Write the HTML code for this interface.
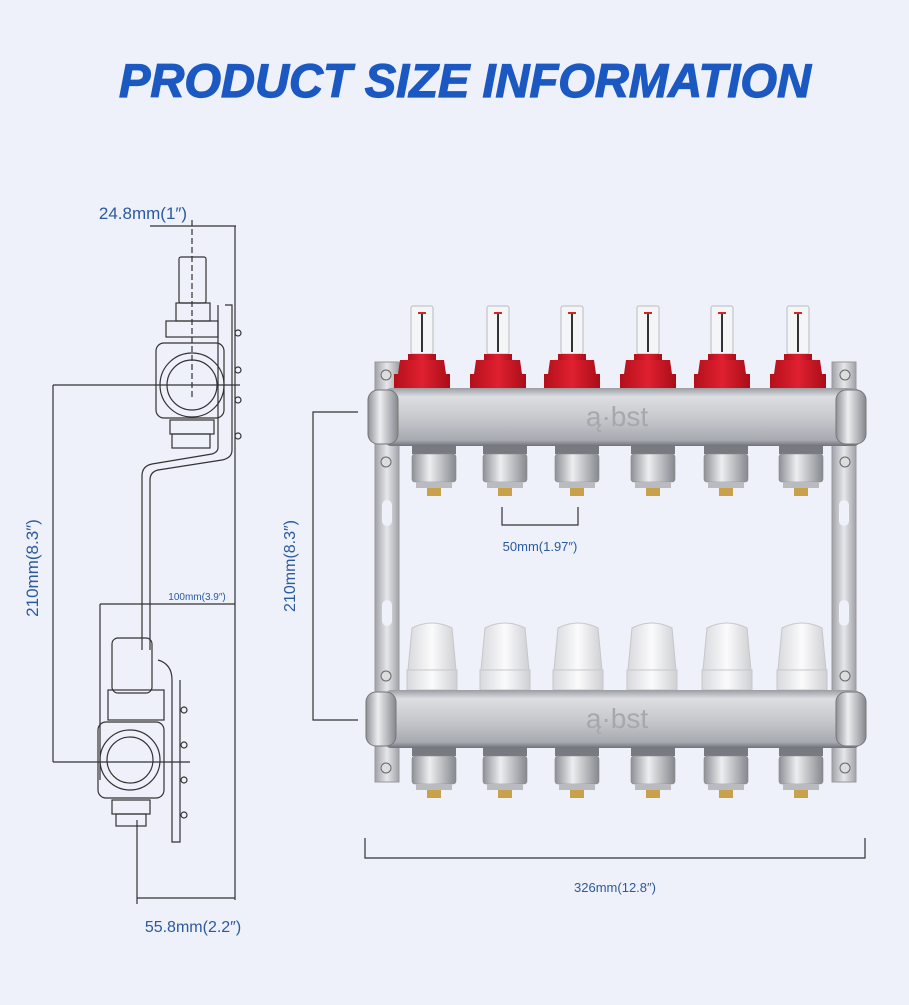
<!DOCTYPE html>
<html><head><meta charset="utf-8"><style>
body{margin:0;width:909px;height:1000px;background:#eef0fa;overflow:hidden}
</style></head><body>
<svg width="909" height="1000" xmlns="http://www.w3.org/2000/svg" font-family="Liberation Sans, sans-serif">
<defs>
<linearGradient id="bar" x1="0" y1="0" x2="0" y2="1"><stop offset="0" stop-color="#9a9da3"/><stop offset="0.15" stop-color="#dcdee2"/><stop offset="0.5" stop-color="#c8cace"/><stop offset="0.9" stop-color="#a7aab0"/><stop offset="1" stop-color="#6f7278"/></linearGradient>
<linearGradient id="rail" x1="0" y1="0" x2="1" y2="0"><stop offset="0" stop-color="#9fa2a8"/><stop offset="0.5" stop-color="#e6e7ea"/><stop offset="1" stop-color="#9fa2a8"/></linearGradient>
<linearGradient id="nut" x1="0" y1="0" x2="1" y2="0"><stop offset="0" stop-color="#8d9096"/><stop offset="0.4" stop-color="#eceef0"/><stop offset="1" stop-color="#85888e"/></linearGradient>
<linearGradient id="red" x1="0" y1="0" x2="1" y2="0"><stop offset="0" stop-color="#b3101a"/><stop offset="0.5" stop-color="#e02030"/><stop offset="1" stop-color="#a80d18"/></linearGradient>
<linearGradient id="wh" x1="0" y1="0" x2="1" y2="0"><stop offset="0" stop-color="#d8d9dc"/><stop offset="0.5" stop-color="#fbfbfc"/><stop offset="1" stop-color="#cfd0d3"/></linearGradient>
<g id="fit">
<rect x="-22" y="0" width="44" height="8" fill="#777a80"/>
<rect x="-22" y="8" width="44" height="28" rx="3" fill="url(#nut)" stroke="#888" stroke-width="0.6"/>
<rect x="-18" y="36" width="36" height="6" fill="#b9bbbf"/>
<rect x="-7" y="42" width="14" height="8" fill="#c9a14a"/>
</g>
<g id="meter">
<rect x="-11" y="0" width="22" height="48" rx="2" fill="#f4f5f7" stroke="#b9bcc2"/>
<line x1="0" y1="6" x2="0" y2="46" stroke="#333" stroke-width="2"/>
<rect x="-4" y="6" width="8" height="2" fill="#d22"/>
<rect x="-14" y="48" width="28" height="6" fill="url(#red)"/>
<path d="M-22 54 H22 L24 68 H28 V82 H-28 V68 H-24 Z" fill="url(#red)"/>
</g>
<g id="cap">
<path d="M-20 0 Q0 -10 20 0 L24 42 H-24 Z" fill="url(#wh)" stroke="#c6c7ca"/>
<rect x="-25" y="42" width="50" height="20" fill="url(#wh)" stroke="#c6c7ca"/>
</g>
</defs>

<text x="465" y="97" text-anchor="middle" font-size="47" font-weight="bold" font-style="italic" fill="#1b58c2" stroke="#1b58c2" stroke-width="1.2" textLength="692" lengthAdjust="spacingAndGlyphs">PRODUCT SIZE INFORMATION</text>

<g stroke="#333" fill="none" stroke-width="1.2">
<text x="143" y="219" text-anchor="middle" font-size="17" fill="#2a5aa0" stroke="none">24.8mm(1″)</text>
<line x1="150" y1="226" x2="236" y2="226"/>
<line x1="192" y1="220" x2="192" y2="400" stroke-dasharray="6 3"/>
<line x1="235" y1="226" x2="235" y2="900"/>
<rect x="179" y="257" width="27" height="46" rx="2"/>
<rect x="176" y="303" width="34" height="18"/>
<rect x="166" y="321" width="52" height="16"/>
<rect x="156" y="343" width="68" height="75" rx="8"/>
<circle cx="192" cy="385" r="32"/>
<circle cx="192" cy="385" r="25"/>
<rect x="170" y="420" width="44" height="14"/>
<rect x="172" y="434" width="38" height="14"/>
<path d="M225 305 H232 V450 Q232 458 222 460 L158 470 Q150 472 150 480 V650"/>
<path d="M218 305 V448 Q218 452 212 454 L152 464 Q142 466 142 476 V650"/>
<circle cx="238" cy="333" r="3"/><circle cx="238" cy="370" r="3"/><circle cx="238" cy="400" r="3"/><circle cx="238" cy="436" r="3"/>
<line x1="53" y1="385" x2="240" y2="385"/>
<line x1="53" y1="385" x2="53" y2="762"/>
<line x1="53" y1="762" x2="190" y2="762"/>
<line x1="100" y1="604" x2="235" y2="604"/>
<line x1="100" y1="604" x2="100" y2="780" />
<text x="197" y="600" text-anchor="middle" font-size="10" fill="#2a5aa0" stroke="none">100mm(3.9″)</text>
<rect x="112" y="638" width="40" height="55" rx="6"/>
<rect x="108" y="690" width="56" height="30"/>
<rect x="98" y="722" width="66" height="76" rx="8"/>
<circle cx="130" cy="760" r="30"/>
<circle cx="130" cy="760" r="23"/>
<rect x="112" y="800" width="38" height="14"/>
<rect x="116" y="814" width="30" height="12"/>
<path d="M158 660 Q172 664 172 680 V842 H180 V680"/>
<circle cx="184" cy="710" r="3"/><circle cx="184" cy="745" r="3"/><circle cx="184" cy="780" r="3"/><circle cx="184" cy="815" r="3"/>
<line x1="137" y1="820" x2="137" y2="904"/>
<line x1="137" y1="898" x2="235" y2="898"/>
</g>
<text transform="translate(38,568) rotate(-90)" text-anchor="middle" font-size="17" fill="#2a5aa0">210mm(8.3″)</text>
<text x="193" y="932" text-anchor="middle" font-size="16" fill="#2a5aa0">55.8mm(2.2″)</text>

<g stroke="#333" fill="none" stroke-width="1.2">
<path d="M358 412 H313 V720 H358"/>
<path d="M502 507 V525 H578 V507"/>
<path d="M365 838 V858 H865 V838"/>
</g>
<text transform="translate(295,566) rotate(-90)" text-anchor="middle" font-size="16" fill="#2a5aa0">210mm(8.3″)</text>
<text x="540" y="551" text-anchor="middle" font-size="13" fill="#2a5aa0">50mm(1.97″)</text>
<text x="615" y="892" text-anchor="middle" font-size="13" fill="#2a5aa0">326mm(12.8″)</text>

<rect x="375" y="362" width="24" height="420" fill="url(#rail)" stroke="#999"/>
<rect x="832" y="362" width="24" height="420" fill="url(#rail)" stroke="#999"/>
<rect x="382" y="500" width="10" height="26" rx="5" fill="#eef0fa"/>
<rect x="382" y="600" width="10" height="26" rx="5" fill="#eef0fa"/>
<rect x="839" y="500" width="10" height="26" rx="5" fill="#eef0fa"/>
<rect x="839" y="600" width="10" height="26" rx="5" fill="#eef0fa"/>
<g fill="#ddd" stroke="#666"><circle cx="386" cy="375" r="5"/><circle cx="386" cy="462" r="5"/><circle cx="845" cy="375" r="5"/><circle cx="845" cy="462" r="5"/><circle cx="386" cy="676" r="5"/><circle cx="386" cy="768" r="5"/><circle cx="845" cy="676" r="5"/><circle cx="845" cy="768" r="5"/></g>

<use href="#meter" x="422" y="306"/><use href="#meter" x="498" y="306"/><use href="#meter" x="572" y="306"/><use href="#meter" x="648" y="306"/><use href="#meter" x="722" y="306"/><use href="#meter" x="798" y="306"/>
<rect x="385" y="388" width="475" height="58" rx="6" fill="url(#bar)"/>
<rect x="368" y="390" width="30" height="54" rx="10" fill="url(#nut)" stroke="#777"/>
<rect x="836" y="390" width="30" height="54" rx="10" fill="url(#nut)" stroke="#777"/>
<text x="617" y="426" text-anchor="middle" font-size="28" fill="#a5a8ad">ą·bst</text>
<use href="#fit" x="434" y="446"/><use href="#fit" x="505" y="446"/><use href="#fit" x="577" y="446"/><use href="#fit" x="653" y="446"/><use href="#fit" x="726" y="446"/><use href="#fit" x="801" y="446"/>

<use href="#cap" x="432" y="628"/><use href="#cap" x="505" y="628"/><use href="#cap" x="578" y="628"/><use href="#cap" x="652" y="628"/><use href="#cap" x="727" y="628"/><use href="#cap" x="802" y="628"/>
<rect x="385" y="690" width="475" height="58" rx="6" fill="url(#bar)"/>
<rect x="366" y="692" width="30" height="54" rx="10" fill="url(#nut)" stroke="#777"/>
<rect x="836" y="692" width="30" height="54" rx="10" fill="url(#nut)" stroke="#777"/>
<text x="617" y="728" text-anchor="middle" font-size="28" fill="#a5a8ad">ą·bst</text>
<use href="#fit" x="434" y="748"/><use href="#fit" x="505" y="748"/><use href="#fit" x="577" y="748"/><use href="#fit" x="653" y="748"/><use href="#fit" x="726" y="748"/><use href="#fit" x="801" y="748"/>
</svg>
</body></html>
